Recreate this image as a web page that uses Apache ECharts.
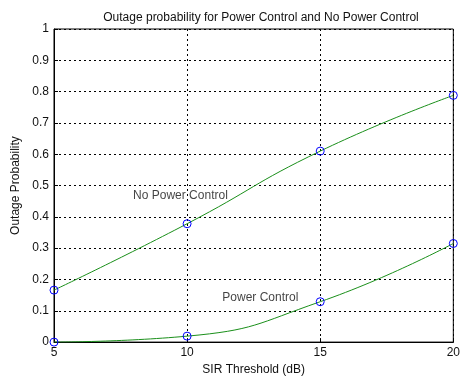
<!DOCTYPE html>
<html><head><meta charset="utf-8">
<script src="https://cdn.jsdelivr.net/npm/echarts@6/dist/echarts.min.js"></script>
<style>html,body{margin:0;padding:0;background:#fff}#c{width:463px;height:381px}</style>
</head><body><div id="c"></div>
<script>
const sirThreshold = [5, 10, 15, 20];
const noPowerControl = [0.166, 0.378, 0.610, 0.788];
const powerControl = [0.0, 0.019, 0.129, 0.315];
const annotations = [
  {text: 'No Power Control', x: 9.75, y: 0.467},
  {text: 'Power Control', x: 12.75, y: 0.141}
];
const font = 'Liberation Sans, Arial, sans-serif';
const chart = echarts.init(document.getElementById('c'));
const lineSeries = (name, vals) => ({
  name, type: 'line', data: sirThreshold.map((x, i) => [x, vals[i]]),
  smooth: 0.5,
  symbol: 'circle', symbolSize: 8, showAllSymbol: true,
  lineStyle: {color: '#1a8f1a', width: 1},
  itemStyle: {color: 'rgba(0,0,0,0)', borderColor: '#0000ff', borderWidth: 1},
  z: 3, animation: false
});
chart.setOption({
  animation: false,
  backgroundColor: '#fff',
  title: {text: 'Outage probability for Power Control and No Power Control', left: 256, top: 7,
    textAlign: 'center',
    textStyle: {fontFamily: font, fontSize: 12, fontWeight: 'normal', color: '#111'}},
  grid: {left: 54, right: 7, top: 29, bottom: 33, show: true, borderColor: '#000', borderWidth: 1},
  xAxis: {type: 'value', min: 5, max: 20, interval: 5,
    name: 'SIR Threshold (dB)', nameLocation: 'middle', nameGap: 20,
    nameTextStyle: {fontFamily: font, fontSize: 12, color: '#111'},
    axisLine: {lineStyle: {color: '#000'}},
    axisTick: {inside: true, length: 4, lineStyle: {color: '#000'}},
    axisLabel: {fontFamily: font, fontSize: 12, color: '#111', margin: 5},
    splitLine: {show: true, lineStyle: {color: '#000', type: [2, 3], width: 1}}},
  yAxis: {type: 'value', min: 0, max: 1, interval: 0.1,
    name: 'Outage Probability', nameLocation: 'middle', nameGap: 30,
    nameTextStyle: {fontFamily: font, fontSize: 12, color: '#111'},
    axisLine: {show: true, lineStyle: {color: '#000'}},
    axisTick: {show: true, inside: true, length: 4, lineStyle: {color: '#000'}},
    axisLabel: {fontFamily: font, fontSize: 12, color: '#111', margin: 5,
      formatter: v => String(Math.round(v * 10) / 10)},
    splitLine: {show: true, lineStyle: {color: '#000', type: [2, 3], width: 1}}},
  series: [
    lineSeries('No Power Control', noPowerControl),
    lineSeries('Power Control', powerControl),
    {type: 'scatter', symbolSize: 0, silent: true,
      data: annotations.map(a => ({value: [a.x, a.y], label: {show: true, formatter: a.text}})),
      label: {position: 'inside', fontFamily: font, fontSize: 12, color: '#111'}, z: 5}
  ]
});
</script></body></html>
